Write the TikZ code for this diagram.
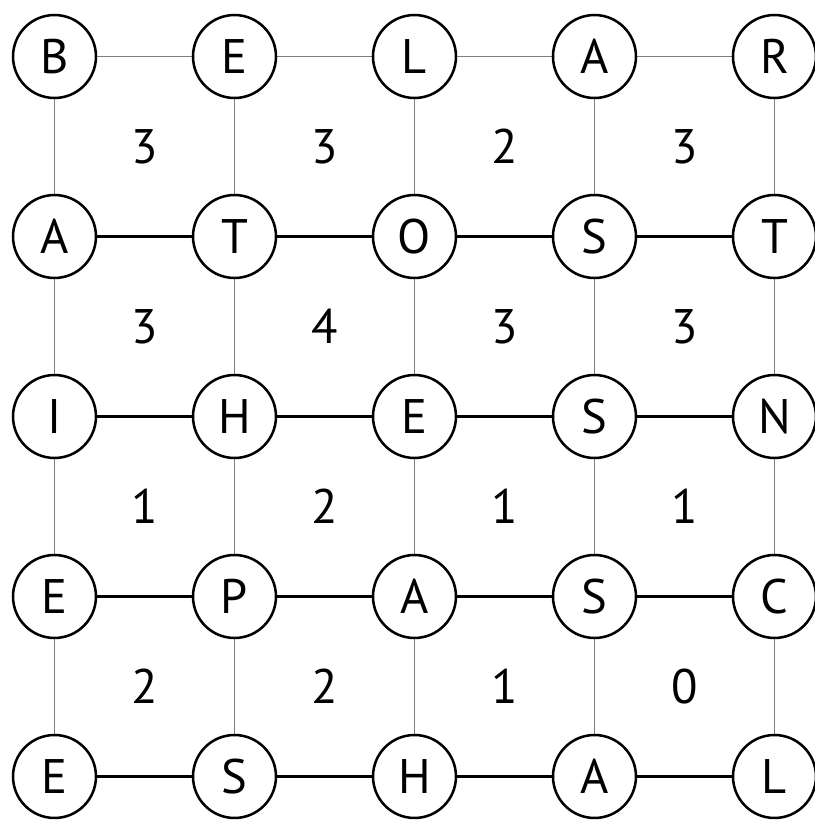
\documentclass[tikz,border=0pt]{standalone}
\usepackage{fontspec}
\setmainfont{PT Sans}
\begin{document}
\begin{tikzpicture}[x=1cm,y=1cm,
  letter/.style={circle,draw=black,line width=1.2pt,fill=white,minimum size=1.383cm,inner sep=0pt,font=\fontsize{23}{23}\selectfont},
  count/.style={font=\fontsize{23}{23}\selectfont},
  thinline/.style={draw=gray,line width=0.7pt},
  boldline/.style={draw=black,line width=1pt}]
\useasboundingbox (0,0) rectangle (13.583,-13.717);
\def\rowA{{"B","E","L","A","R"}}
\foreach \j/\row in {0/{B,E,L,A,R},1/{A,T,O,S,T},2/{I,H,E,S,N},3/{E,P,A,S,C},4/{E,S,H,A,L}}{
  \foreach \t [count=\i from 0] in \row {
    \coordinate (c-\i-\j) at ({(54.5+180*\i)/60},{-(56.5+180*\j)/60});
  }
}
% vertical lines
\foreach \i in {0,...,4}{
  \foreach \j [evaluate=\j as \k using int(\j+1)] in {0,...,3}{
    \draw[thinline] (c-\i-\j) -- (c-\i-\k);
  }
}
% horizontal lines
\foreach \i [evaluate=\i as \k using int(\i+1)] in {0,...,3}{
  \draw[thinline] (c-\i-0) -- (c-\k-0);
  \foreach \j in {1,...,4}{
    \draw[boldline] (c-\i-\j) -- (c-\k-\j);
  }
}
\foreach \j/\row in {0/{B,E,L,A,R},1/{A,T,O,S,T},2/{I,H,E,S,N},3/{E,P,A,S,C},4/{E,S,H,A,L}}{
  \foreach \t [count=\i from 0] in \row {
    \node[letter] (n-\i-\j) at (c-\i-\j) {\t};
  }
}
\foreach \j/\row in {0/{3,3,2,3},1/{3,4,3,3},2/{1,2,1,1},3/{2,2,1,0}}{
  \foreach \t [count=\i from 0] in \row {
    \node[count] (m-\i-\j) at ({(144.5+180*\i)/60},{-(146.5+180*\j)/60}) {\t};
  }
}
\end{tikzpicture}
\end{document}
